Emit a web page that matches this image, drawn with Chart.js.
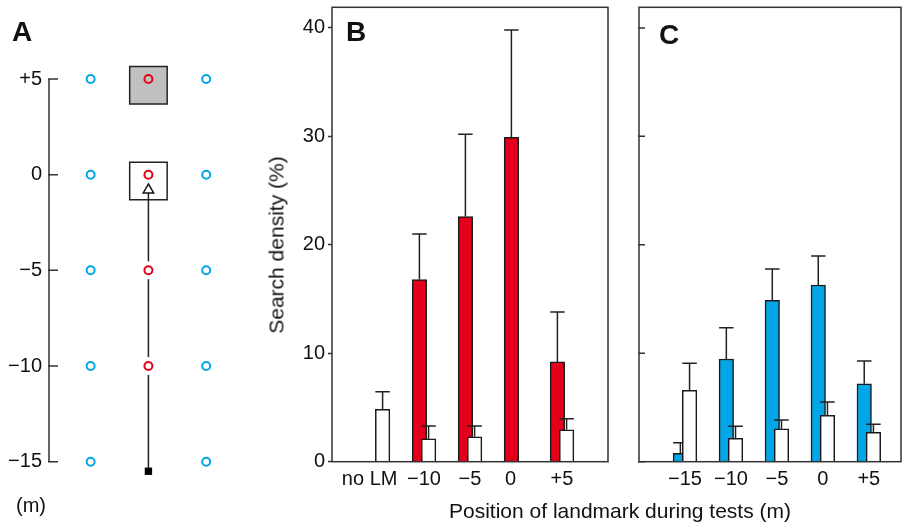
<!DOCTYPE html>
<html>
<head>
<meta charset="utf-8">
<script src="https://cdn.jsdelivr.net/npm/chart.js@4.4.1/dist/chart.umd.min.js"></script>
<style>
body { margin: 0; width: 902px; height: 523px; background: #fff; position: relative; overflow: hidden; font-family: "Liberation Sans", Arial, sans-serif; color: #111; }
.box { position: absolute; }
.lbl { position: absolute; line-height: 1; white-space: nowrap; }
.panel { font-weight: bold; font-size: 28px; }
</style>
</head>
<body>
<div class="box" style="left:0;top:0;width:262px;height:523px"><canvas id="chartA"></canvas></div>
<div class="box" style="left:255px;top:0;width:355px;height:523px"><canvas id="chartB"></canvas></div>
<div class="box" style="left:630px;top:0;width:272px;height:523px"><canvas id="chartC"></canvas></div>

<div class="lbl panel" style="left:12px;top:18px">A</div>
<div class="lbl panel" style="left:346px;top:18px">B</div>
<div class="lbl panel" style="left:659px;top:21px">C</div>
<div class="lbl" style="left:16px;top:495px;font-size:20px">(m)</div>
<div class="lbl" style="left:276px;top:245px;font-size:21px;transform:translate(-50%,-50%) rotate(-90deg)">Search density (%)</div>
<div class="lbl" style="left:620px;top:500px;font-size:21px;transform:translateX(-50%)">Position of landmark during tests (m)</div>

<script>
// panel A: layout of the feeders and the training track (m)
const aTicks = [5, 0, -5, -10, -15];
const sideFeeders = [5, 0, -5, -10, -15];
const trackFeeders = [5, 0, -5, -10];
const landmarks = [5, 0];
const trackY = [-15.5, -0.8];

// panel B: trained with landmark, tested with landmark at these positions
const bCats = ['no LM', '\u221210', '\u22125', '0', '+5'];
const bRed = [null, 16.8, 22.6, 29.9, 9.2];
const bRedErr = [null, 21.0, 30.2, 39.8, 13.8];
const bWhite = [4.83, 2.1, 2.3, null, 2.95];
const bWhiteErr = [6.45, 3.3, 3.3, null, 3.96];

// panel C
const cCats = ['\u221215', '\u221210', '\u22125', '0', '+5'];
const cBlue = [0.77, 9.47, 14.87, 16.29, 7.19];
const cBlueErr = [1.75, 12.35, 17.76, 18.96, 9.28];
const cWhite = [6.58, 2.16, 3.04, 4.28, 2.71];
const cWhiteErr = [9.07, 3.26, 3.84, 5.5, 3.45];

const yTicks = [0, 10, 20, 30, 40];

const RED = '#e2001a';
const BLUE = '#00a6e6';
const INK = '#222';

Chart.defaults.font.family = '"Liberation Sans", Arial, sans-serif';
Chart.defaults.font.size = 20;
Chart.defaults.color = '#111';
Chart.defaults.animation = false;

function signed(v) {
    if (v > 0) return '+' + v;
    if (v < 0) return '\u2212' + Math.abs(v);
    return '0';
}

// frame, axis line and inner tick marks
const framePlugin = {
    id: 'frame',
    afterDatasetsDraw(chart, args, opts) {
        const a = chart.chartArea;
        const ctx = chart.ctx;
        const y = chart.scales.y;
        ctx.save();
        ctx.strokeStyle = '#333';
        ctx.lineWidth = 1.5;
        if (opts.box) {
            ctx.strokeRect(a.left, a.top, a.right - a.left, a.bottom - a.top);
        }
        ctx.beginPath();
        if (opts.axisLine) {
            ctx.moveTo(a.left, y.getPixelForValue(Math.max(...opts.tickValues)));
            ctx.lineTo(a.left, y.getPixelForValue(Math.min(...opts.tickValues)));
        }
        if (opts.tickValues) {
            opts.tickValues.forEach(v => {
                let py = y.getPixelForValue(v);
                ctx.moveTo(a.left - 1, py);
                ctx.lineTo(a.left + opts.tickLen, py);
            });
        }
        ctx.stroke();
        ctx.restore();
    }
};

// one sided error bars, drawn right after their own dataset
const errorPlugin = {
    id: 'errbars',
    afterDatasetDraw(chart, args) {
        const ds = chart.data.datasets[args.index];
        if (chart.config.type !== 'bar') return;
        const ctx = chart.ctx;
        const yScale = chart.scales.y;
        ctx.save();
        ctx.strokeStyle = INK;
        ctx.lineWidth = 1.5;
        args.meta.data.forEach((el, i) => {
            let raw = ds.data[i];
            if (raw.err == null) return;
            let top = yScale.getPixelForValue(raw.err);
            let half = el.width / 2;
            ctx.beginPath();
            ctx.moveTo(el.x, el.y);
            ctx.lineTo(el.x, top);
            ctx.moveTo(el.x - half, top);
            ctx.lineTo(el.x + half, top);
            ctx.stroke();
        });
        ctx.restore();
    }
};

Chart.register(framePlugin, errorPlugin);

function barPoints(values, errs, shift) {
    let pts = [];
    values.forEach((v, i) => {
        if (v !== null) pts.push({ x: i + shift, y: v, err: errs[i] });
    });
    return pts;
}

function barDataset(values, errs, shift, color) {
    return {
        data: barPoints(values, errs, shift),
        backgroundColor: color,
        borderColor: '#1a1a1a',
        borderWidth: 1.5,
        barThickness: 14.5,
        grouped: false
    };
}

function barOptions(cats, xMax, showY, padLeft, padRight, labelFix) {
    return {
        responsive: true,
        maintainAspectRatio: false,
        events: [],
        layout: { autoPadding: false, padding: { left: padLeft, right: padRight, top: 7.3, bottom: 0 } },
        plugins: {
            legend: { display: false },
            tooltip: { enabled: false },
            frame: showY ? { box: true } : { box: true, tickValues: yTicks, tickLen: 6 }
        },
        scales: {
            x: {
                type: 'linear',
                min: -1,
                max: xMax,
                offset: false,
                grid: { display: false, drawTicks: false, offset: false },
                border: { display: false },
                ticks: {
                    stepSize: 1,
                    includeBounds: false,
                    autoSkip: false,
                    maxRotation: 0,
                    padding: 6,
                    callback: v => labelFix(cats[Math.round(v)] ?? '', Math.round(v))
                },
                afterFit: s => { s.height = 61.3; s.paddingLeft = 0; s.paddingRight = 0; }
            },
            y: {
                display: showY,
                min: 0,
                max: 41.9,
                grid: { display: true, drawOnChartArea: false, drawTicks: true, tickLength: 4, tickColor: '#333', tickWidth: 1.5 },
                border: { display: false },
                ticks: { stepSize: 10, includeBounds: false, padding: 3 },
                afterFit: s => { s.width = showY ? 77 : 0; s.paddingTop = 0; s.paddingBottom = 0; }
            }
        }
    };
}

// panel A
let boxColors = ['#c0c0c0', '#ffffff'];
let aSets = [
    {
        data: [{ x: 0, y: trackY[1] }],
        pointStyle: 'triangle',
        pointRadius: 6,
        pointBackgroundColor: '#fff',
        pointBorderColor: '#111',
        pointBorderWidth: 1.5,
        order: 1
    },
    {
        data: [{ x: 0, y: trackY[0] }],
        pointStyle: 'rect',
        pointRadius: 5.2,
        pointBackgroundColor: '#000',
        pointBorderColor: '#000',
        pointBorderWidth: 0,
        order: 1
    },
    {
        data: trackFeeders.map(y => ({ x: 0, y: y })),
        pointRadius: 4,
        pointBackgroundColor: 'rgba(0,0,0,0)',
        pointBorderColor: RED,
        pointBorderWidth: 2,
        order: 2
    },
    {
        data: sideFeeders.flatMap(y => [{ x: -1, y: y }, { x: 1, y: y }]),
        pointRadius: 4,
        pointBackgroundColor: '#fff',
        pointBorderColor: BLUE,
        pointBorderWidth: 2,
        order: 2
    },
    {
        data: trackFeeders.filter(y => y > trackY[0] && y < trackY[1]).map(y => ({ x: 0, y: y })),
        pointRadius: 9,
        pointBackgroundColor: '#fff',
        pointBorderWidth: 0,
        order: 3
    },
    {
        data: trackY.map(y => ({ x: 0, y: y })),
        showLine: true,
        borderColor: INK,
        borderWidth: 1.5,
        pointRadius: 0,
        order: 4
    },
    {
        data: landmarks.map(y => ({ x: 0, y: y - 0.33 })),
        pointStyle: 'rect',
        pointRadius: 26.5,
        pointBackgroundColor: boxColors,
        pointBorderColor: INK,
        pointBorderWidth: 1.5,
        order: 5
    }
];
aSets.forEach(ds => { ds.clip = false; });

new Chart(document.getElementById('chartA'), {
    type: 'scatter',
    data: { datasets: aSets },
    options: {
        responsive: true,
        maintainAspectRatio: false,
        events: [],
        layout: { autoPadding: false, padding: { left: 0, right: 0, top: 79, bottom: 42.2 } },
        plugins: {
            legend: { display: false },
            tooltip: { enabled: false },
            frame: { axisLine: true, tickValues: aTicks, tickLen: 9 }
        },
        scales: {
            x: { type: 'linear', display: false, min: -1.72, max: 1.965 },
            y: {
                min: -16,
                max: 5,
                grid: { display: false, drawTicks: false },
                border: { display: false },
                ticks: { stepSize: 5, includeBounds: false, padding: 7, callback: v => signed(v) },
                afterFit: s => { s.width = 49; s.paddingTop = 0; s.paddingBottom = 0; }
            }
        }
    }
});

// panel B: "no LM" and "0" sit a little left of their tick in the original
new Chart(document.getElementById('chartB'), {
    type: 'bar',
    data: {
        datasets: [
            barDataset(bWhite, bWhiteErr, 0.1, '#ffffff'),
            barDataset(bRed, bRedErr, -0.1, RED)
        ]
    },
    options: barOptions(bCats, 5, true, 0, 2, (t, i) => {
        if (i === 0) return t + '\u00a0\u00a0\u00a0';
        if (i === 3) return t + '\u00a0\u00a0';
        return t;
    })
});

// panel C
new Chart(document.getElementById('chartC'), {
    type: 'bar',
    data: {
        datasets: [
            barDataset(cWhite, cWhiteErr, 0.1, '#ffffff'),
            barDataset(cBlue, cBlueErr, -0.1, BLUE)
        ]
    },
    options: barOptions(cCats, 4.7, false, 9, 1, t => t)
});
</script>
</body>
</html>
